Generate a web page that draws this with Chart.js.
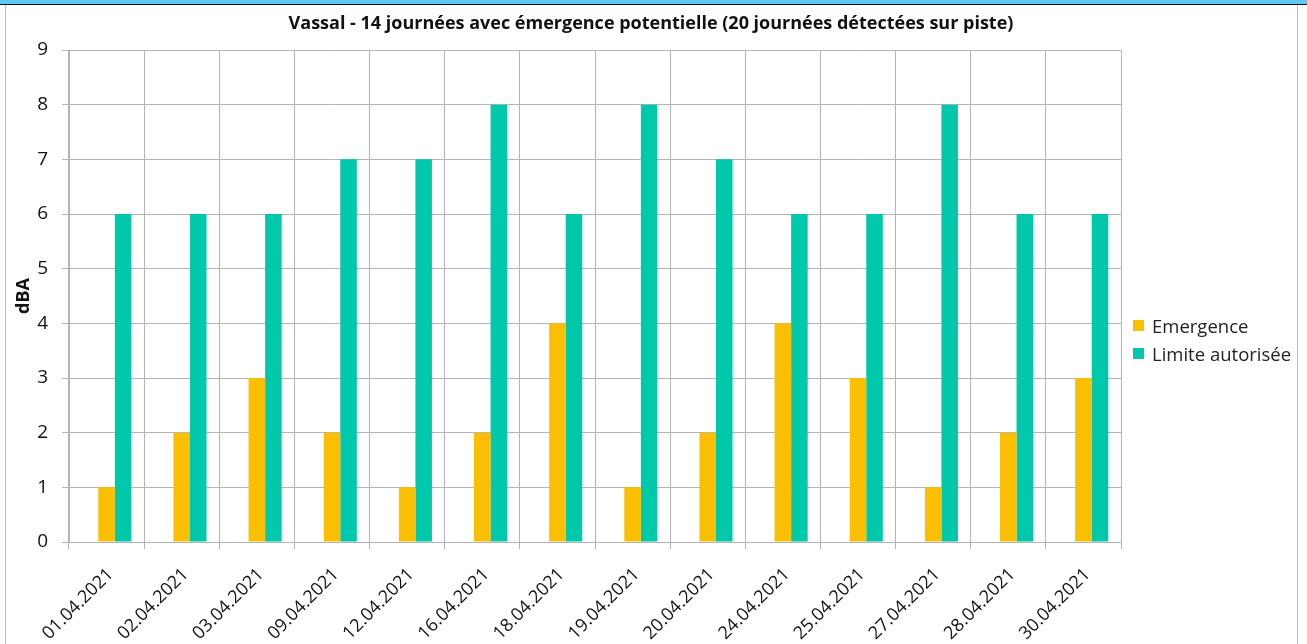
<!DOCTYPE html>
<html lang="fr">
<head>
  <meta charset="UTF-8" />
  <title>Vassal - émergence</title>
  <script src="https://cdn.jsdelivr.net/npm/chart.js"></script>
  <style>
    html, body { margin: 0; padding: 0; background: #fff; }
    body { width: 1307px; height: 644px; position: relative; overflow: hidden; font-family: "Open Sans", sans-serif; color: #111; }
    .topbar  { position: absolute; left: 0; top: 0; width: 1307px; height: 4px; background: #5ec8f4; }
    .topline { position: absolute; left: 0; top: 4px; width: 1307px; height: 1px; background: #111; }
    .frame   { position: absolute; left: 5px; top: 5px; width: 1291px; height: 650px; border-left: 1px solid #bdbdbd; border-right: 1px solid #bdbdbd; }
    .box     { position: absolute; left: 6px; top: 5px; width: 1290px; height: 639px; }
    #titre   { position: absolute; left: 6px; width: 1290px; top: 9px; text-align: center; font-weight: bold; font-size: 18px; line-height: 26px; }
    #legend  { position: absolute; left: 1133px; top: 311px; font-size: 18.5px; color: #222; }
    #legend div { height: 28px; display: flex; align-items: center; }
    #legend span.sw { display: inline-block; width: 11px; height: 11px; margin-right: 8px; }
  </style>
</head>
<body>
  <div class="topbar"></div>
  <div class="topline"></div>
  <div class="frame"></div>
  <div class="box"><canvas id="chart" width="1290" height="639"></canvas></div>
  <div id="titre"></div>
  <div id="legend"></div>

  <script>
    // Données
    const jours = ['01.04.2021','02.04.2021','03.04.2021','09.04.2021','12.04.2021','16.04.2021','18.04.2021',
                   '19.04.2021','20.04.2021','24.04.2021','25.04.2021','27.04.2021','28.04.2021','30.04.2021'];
    const emergence = [1, 2, 3, 2, 1, 2, 4, 1, 2, 4, 3, 1, 2, 3];
    const limite    = [6, 6, 6, 7, 7, 8, 6, 8, 7, 6, 6, 8, 6, 6];
    const vide      = [];   // série vide (emplacement réservé dans le groupe)
    const yTicks    = [0, 1, 2, 3, 4, 5, 6, 7, 8, 9];

    const titre = 'Vassal - 14 journées avec émergence potentielle (20 journées détectées sur piste)';
    const grille = '#b4b4b4';
    document.getElementById('titre').textContent = titre;

    const chart = new Chart(document.getElementById('chart').getContext('2d'), {
      type: 'bar',
      data: {
        labels: jours,
        datasets: [
          { label: '', data: vide, backgroundColor: 'rgba(0,0,0,0)' },
          { label: 'Emergence', data: emergence, backgroundColor: '#f9bf00' },
          { label: 'Limite autorisée', data: limite, backgroundColor: '#00c8aa' }
        ]
      },
      options: {
        responsive: false,
        animation: false,
        layout: { padding: { left: 0, right: 175, top: 45, bottom: 0 } },
        datasets: { bar: { categoryPercentage: 0.66, barPercentage: 1.0 } },
        plugins: {
          legend: { display: false },
          tooltip: { enabled: false }
        },
        scales: {
          x: {
            grid: { color: grille, offset: true, tickLength: 7 },
            border: { color: grille },
            ticks: { color: '#111', maxRotation: 45, minRotation: 45, padding: 15, labelOffset: 4,
                     font: { family: 'Open Sans', size: 18 } },
            afterFit: s => { s.height = 102; }
          },
          y: {
            min: 0, max: 9,
            afterBuildTicks: s => { s.ticks = yTicks.map(v => ({ value: v })); },
            grid: { color: grille, tickLength: 7 },
            border: { color: grille },
            ticks: { color: '#111', padding: 14, font: { family: 'Open Sans', size: 19 } },
            title: { display: true, text: 'dBA', color: '#111', padding: { top: 7, bottom: 0 },
                     font: { family: 'Open Sans', size: 18, weight: 'bold' } },
            afterFit: s => { s.width = 63; }
          }
        }
      }
    });

    // Légende HTML (séries visibles seulement)
    const leg = document.getElementById('legend');
    chart.data.datasets.filter(d => d.label).forEach(d => {
      const row = document.createElement('div');
      row.innerHTML = '<span class="sw" style="background:' + d.backgroundColor + '"></span>' + d.label;
      leg.appendChild(row);
    });
  </script>
</body>
</html>
